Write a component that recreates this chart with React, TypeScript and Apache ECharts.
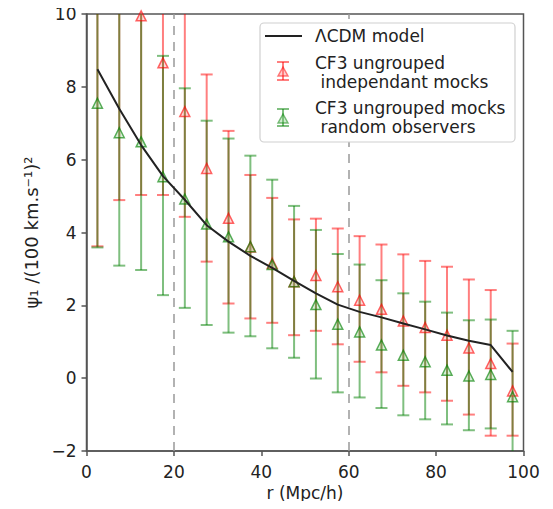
import React, { useEffect, useRef } from "react";
import * as echarts from "echarts";

const rValues = [2.5, 7.5, 12.5, 17.5, 22.5, 27.5, 32.5, 37.5, 42.5, 47.5, 52.5, 57.5, 62.5, 67.5, 72.5, 77.5, 82.5, 87.5, 92.5, 97.5];
const modelValues = [8.48, 7.4, 6.4, 5.55, 4.9, 4.2, 3.75, 3.36, 3.03, 2.67, 2.33, 2.02, 1.82, 1.67, 1.5, 1.34, 1.17, 1.03, 0.91, 0.17];

const indepValues = [11.6, 10.9, 9.95, 8.66, 7.32, 5.76, 4.39, 3.6, 3.15, 2.65, 2.82, 2.51, 2.14, 1.89, 1.57, 1.39, 1.18, 0.83, 0.4, -0.35];
const indepLow = [3.62, 4.89, 5.03, 5.03, 4.43, 3.2, 2.05, 1.64, 1.52, 1.18, 1.3, 0.93, 0.45, 0.16, -0.21, -0.39, -0.62, -1.0, -1.58, -1.58];
const indepHigh = [19.6, 16.9, 14.9, 12.3, 10.2, 8.34, 6.79, 5.58, 4.95, 4.36, 4.38, 4.11, 3.9, 3.67, 3.4, 3.22, 3.06, 2.71, 2.42, 0.95];

const randValues = [7.55, 6.74, 6.49, 5.53, 4.92, 4.23, 3.88, 3.61, 3.12, 2.65, 2.02, 1.48, 1.27, 0.91, 0.63, 0.45, 0.22, 0.06, 0.1, -0.51];
const randLow = [3.59, 3.09, 2.97, 2.28, 1.93, 1.46, 1.25, 1.15, 0.82, 0.56, -0.01, -0.39, -0.53, -0.82, -1.02, -1.13, -1.27, -1.43, -1.38, -2.3];
const randHigh = [11.5, 10.4, 10.3, 8.85, 7.96, 7.07, 6.58, 6.11, 5.45, 4.73, 4.07, 3.41, 3.12, 2.69, 2.33, 2.1, 1.8, 1.59, 1.61, 1.3];

const xTicks = [0, 20, 40, 60, 80, 100];
const yTicks = [-2, 0, 2, 4, 6, 8, 10];
const dashedAt = [20, 60];

const RED = "rgba(255,0,0,0.5)";
const GREEN = "rgba(0,128,0,0.5)";
const FONT = "DejaVu Sans";

function errRender(color: string) {
  return (params: any, api: any) => {
    const x = api.value(0);
    const lo = api.coord([x, api.value(1)]);
    const hi = api.coord([x, api.value(2)]);
    const hw = 6;
    const style = { stroke: color, lineWidth: 2, fill: "none" };
    return {
      type: "group",
      children: [
        { type: "line", shape: { x1: lo[0], y1: lo[1], x2: hi[0], y2: hi[1] }, style },
        { type: "line", shape: { x1: lo[0] - hw, y1: lo[1], x2: lo[0] + hw, y2: lo[1] }, style },
        { type: "line", shape: { x1: hi[0] - hw, y1: hi[1], x2: hi[0] + hw, y2: hi[1] }, style },
      ],
    };
  };
}

function legendIcon(cx: number, y1: number, y2: number, ty: number, color: string, fill: string) {
  const style = { stroke: color, lineWidth: 2, fill: "none" };
  return [
    { type: "line", z: 101, shape: { x1: cx, y1, x2: cx, y2 }, style },
    { type: "line", z: 101, shape: { x1: cx - 6, y1, x2: cx + 6, y2: y1 }, style },
    { type: "line", z: 101, shape: { x1: cx - 6, y1: y2, x2: cx + 6, y2 }, style },
    {
      type: "polygon",
      z: 102,
      shape: { points: [[cx, ty - 5], [cx - 5, ty + 4], [cx + 5, ty + 4]] },
      style: { stroke: color, lineWidth: 1.5, fill },
    },
  ];
}

function legendText(x: number, y: number, text: string) {
  return {
    type: "text",
    z: 102,
    x,
    y,
    style: { text, fontFamily: FONT, fontSize: 17, fill: "#222", textVerticalAlign: "middle", textAlign: "left" },
  };
}

export default function App() {
  const ref = useRef<HTMLDivElement>(null);
  useEffect(() => {
    if (!ref.current) return;
    const chart = echarts.init(ref.current, null, { renderer: "svg" });
    const errData = (lo: number[], hi: number[], v: number[]) => rValues.map((r, i) => [r, lo[i], hi[i], v[i]]);
    chart.setOption({
      animation: false,
      backgroundColor: "#fff",
      textStyle: { fontFamily: FONT },
      grid: { left: 86.5, right: 29.5, top: 14, bottom: 58, show: true, borderColor: "#555", borderWidth: 1.5, backgroundColor: "transparent" },
      xAxis: {
        type: "value",
        min: xTicks[0],
        max: xTicks[xTicks.length - 1],
        interval: 20,
        name: "r (Mpc/h)",
        nameLocation: "middle",
        nameGap: 33,
        nameTextStyle: { fontFamily: FONT, fontSize: 17, color: "#222" },
        axisLine: { show: true, onZero: false, lineStyle: { color: "#555", width: 1.5 } },
        axisTick: { show: true, length: 5, lineStyle: { color: "#555", width: 1.5 } },
        axisLabel: { fontFamily: FONT, fontSize: 17, color: "#222", margin: 12 },
        splitLine: { show: false },
      },
      yAxis: {
        type: "value",
        min: yTicks[0],
        max: yTicks[yTicks.length - 1],
        interval: 2,
        name: "ψ₁ /(100 km.s⁻¹)²",
        nameLocation: "middle",
        nameRotate: 90,
        nameGap: 44,
        nameTextStyle: { fontFamily: FONT, fontSize: 18, color: "#222" },
        axisLine: { show: true, onZero: false, lineStyle: { color: "#555", width: 1.5 } },
        axisTick: { show: true, length: 5, lineStyle: { color: "#555", width: 1.5 } },
        axisLabel: { fontFamily: FONT, fontSize: 17, color: "#222", margin: 10, formatter: (v: number) => (v < 0 ? "−" + Math.abs(v) : String(v)) },
        splitLine: { show: false },
      },
      series: [
        {
          type: "custom",
          name: "indep-err",
          clip: true,
          renderItem: errRender(RED),
          encode: { x: 0, y: [1, 2] },
          data: errData(indepLow, indepHigh, indepValues),
          z: 2,
        },
        {
          type: "custom",
          name: "rand-err",
          clip: true,
          renderItem: errRender(GREEN),
          encode: { x: 0, y: [1, 2] },
          data: errData(randLow, randHigh, randValues),
          z: 3,
        },
        {
          type: "scatter",
          name: "CF3 ungrouped independant mocks",
          clip: true,
          symbol: "triangle",
          symbolSize: 10,
          itemStyle: { color: "rgba(255,120,120,0.35)", borderColor: "rgba(255,0,0,0.75)", borderWidth: 1.5 },
          data: rValues.map((r, i) => [r, indepValues[i]]),
          z: 4,
        },
        {
          type: "scatter",
          name: "CF3 ungrouped mocks random observers",
          clip: true,
          symbol: "triangle",
          symbolSize: 10,
          itemStyle: { color: "rgba(120,200,120,0.35)", borderColor: "rgba(0,128,0,0.8)", borderWidth: 1.5 },
          data: rValues.map((r, i) => [r, randValues[i]]),
          z: 5,
        },
        {
          type: "line",
          name: "ΛCDM model",
          clip: true,
          showSymbol: false,
          symbol: "none",
          lineStyle: { color: "#222", width: 2 },
          data: rValues.map((r, i) => [r, modelValues[i]]),
          z: 6,
          markLine: {
            silent: true,
            symbol: "none",
            label: { show: false },
            lineStyle: { color: "#999", width: 1.5, type: [9, 7] },
            data: dashedAt.map((v) => ({ xAxis: v })),
          },
        },
      ],
      graphic: [
        {
          type: "group",
          z: 100,
          children: [
            { type: "rect", z: 100, shape: { x: 260, y: 23, width: 255, height: 119, r: 4 }, style: { fill: "#fff", stroke: "#d0d0d0", lineWidth: 1.2 } },
            { type: "line", z: 101, shape: { x1: 265, y1: 36, x2: 302, y2: 36 }, style: { stroke: "#222", lineWidth: 2 } },
            legendText(315, 36, "ΛCDM model"),
            ...legendIcon(283, 62, 80, 72, RED, "rgba(255,120,120,0.35)"),
            legendText(315, 63, "CF3 ungrouped"),
            legendText(315, 82, " independant mocks"),
            ...legendIcon(283, 109, 126, 119, GREEN, "rgba(120,200,120,0.35)"),
            legendText(315, 108, "CF3 ungrouped mocks"),
            legendText(315, 127, " random observers"),
          ],
        },
      ],
    });
    return () => chart.dispose();
  }, []);
  return <div ref={ref} style={{ width: 553, height: 509, margin: -8 }} />;
}
